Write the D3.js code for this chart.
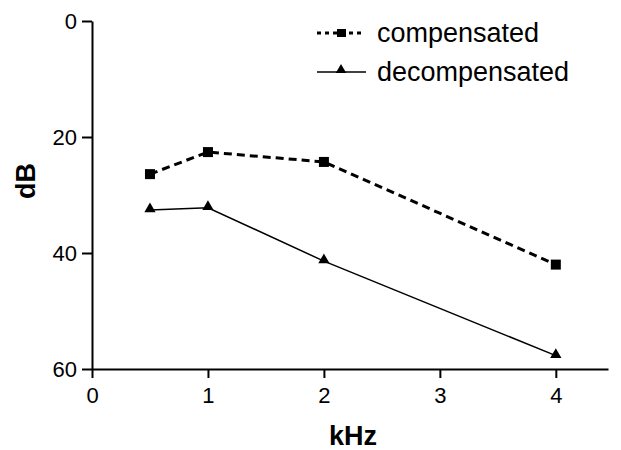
<!DOCTYPE html>
<html>
<head>
<meta charset="utf-8">
<script src="https://cdn.jsdelivr.net/npm/d3@7"></script>
<style>
  body { margin: 0; background: #fff; }
  svg { font-family: "Liberation Sans", Arial, sans-serif; }
</style>
</head>
<body>
<div id="chart"></div>
<script>
// frequencies (kHz) and thresholds (dB)
const freqs = [0.5, 1, 2, 4];
const compensated = [26.4, 22.6, 24.3, 42.0];
const decompensated = [32.6, 32.2, 41.4, 57.7];
const xTicks = [0, 1, 2, 3, 4];
const yTicks = [0, 20, 40, 60];
const seriesNames = ['compensated', 'decompensated'];

const width = 621, height = 450;
const svg = d3.select('#chart')
    .append('svg')
    .attr('width', width)
    .attr('height', height);

const x = d3.scaleLinear().domain([0, 4.45]).range([92, 608]);
const y = d3.scaleLinear().domain([0, 60]).range([21, 369]);

// axes
const xAxis = svg.append('g')
    .attr('transform', 'translate(0,' + y(60) + ')')
    .call(d3.axisBottom(x).tickValues(xTicks).tickFormat(d3.format('d'))
        .tickSize(9).tickPadding(9).tickSizeOuter(0));
const yAxis = svg.append('g')
    .attr('transform', 'translate(' + x(0) + ',0)')
    .call(d3.axisLeft(y).tickValues(yTicks).tickFormat(d3.format('d'))
        .tickSize(10).tickPadding(5).tickSizeOuter(0));

[xAxis, yAxis].forEach(g => {
    g.select('.domain').attr('stroke', '#000').attr('stroke-width', 2);
    g.selectAll('.tick line').attr('stroke', '#000').attr('stroke-width', 2);
    g.selectAll('.tick text').attr('fill', '#000').style('font-size', '22px')
        .style('font-family', '"Liberation Sans", Arial, sans-serif');
});
yAxis.selectAll('.tick text').attr('dy', '0.36em');

// axis titles
svg.append('text')
    .attr('x', 353).attr('y', 445)
    .attr('text-anchor', 'middle')
    .style('font-size', '27px').style('font-weight', 'bold')
    .text('kHz');
svg.append('text')
    .attr('transform', 'translate(35,181) rotate(-90)')
    .attr('text-anchor', 'middle')
    .style('font-size', '27px').style('font-weight', 'bold')
    .text('dB');

const line = d3.line().x(d => x(d[0])).y(d => y(d[1]));

// compensated: dashed with squares
const compData = freqs.map((f, i) => [f, compensated[i]]);
svg.append('path')
    .datum(compData)
    .attr('d', line)
    .attr('fill', 'none')
    .attr('stroke', '#000')
    .attr('stroke-width', 3)
    .attr('stroke-dasharray', '8,5');
svg.selectAll('.sq')
    .data(compData)
    .enter()
    .append('rect')
    .attr('x', d => x(d[0]) - 5)
    .attr('y', d => y(d[1]) - 5)
    .attr('width', 10)
    .attr('height', 10)
    .attr('fill', '#000');

// decompensated: solid with triangles
const decData = freqs.map((f, i) => [f, decompensated[i]]);
svg.append('path')
    .datum(decData)
    .attr('d', line)
    .attr('fill', 'none')
    .attr('stroke', '#000')
    .attr('stroke-width', 1.5);
const tri = d3.symbol().type(d3.symbolTriangle).size(55);
svg.selectAll('.tri')
    .data(decData)
    .enter()
    .append('path')
    .attr('d', tri)
    .attr('transform', d => 'translate(' + x(d[0]) + ',' + (y(d[1]) - 1) + ')')
    .attr('fill', '#000');

// legend
const legend = svg.append('g');
legend.append('line')
    .attr('x1', 317).attr('x2', 365).attr('y1', 33).attr('y2', 33)
    .attr('stroke', '#000').attr('stroke-width', 3).attr('stroke-dasharray', '4,4');
legend.append('rect')
    .attr('x', 337).attr('y', 29).attr('width', 9).attr('height', 8).attr('fill', '#000');
legend.append('line')
    .attr('x1', 317).attr('x2', 366).attr('y1', 72).attr('y2', 72)
    .attr('stroke', '#000').attr('stroke-width', 1.5);
legend.append('path')
    .attr('d', d3.symbol().type(d3.symbolTriangle).size(48))
    .attr('transform', 'translate(341,70)')
    .attr('fill', '#000');
legend.selectAll('.lt')
    .data(seriesNames)
    .enter()
    .append('text')
    .attr('x', 377)
    .attr('y', (d, i) => 33 + i * 39)
    .attr('dy', '0.35em')
    .style('font-size', '27px')
    .text(d => d);
</script>
</body>
</html>
